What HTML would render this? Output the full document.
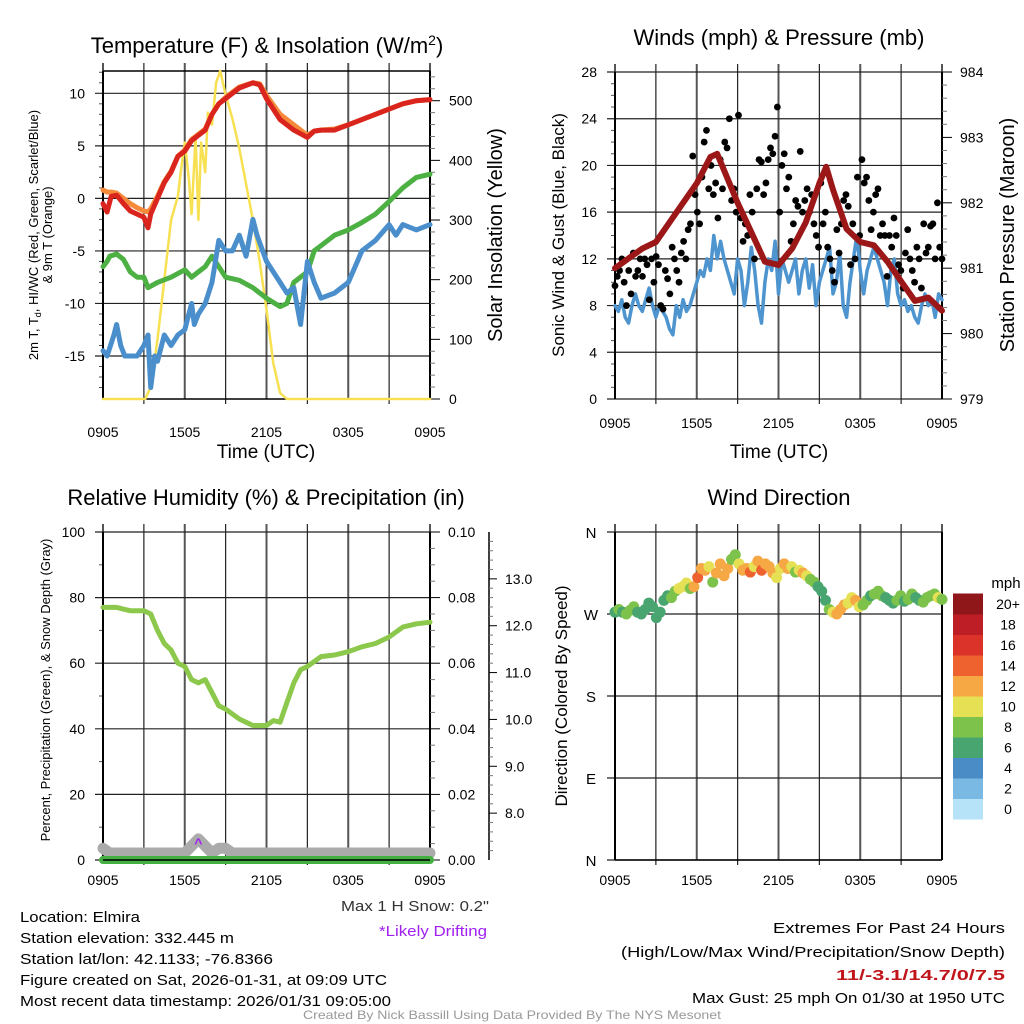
<!DOCTYPE html>
<html><head><meta charset="utf-8"><style>
html,body{margin:0;padding:0;background:#fff}
svg{display:block;font-family:"Liberation Sans",Arial,sans-serif}
</style></head><body>
<svg id="c" width="1024" height="1024" viewBox="0 0 1024 1024"></svg>
<script>
// ---------- DATA ----------
const hourLabels = ["0905","1505","2105","0305","0905"];
const tempHours = [0,0.3,0.6,1,1.5,2,2.5,3,3.3,3.5,4,4.5,5,5.5,6,6.5,7,7.5,8,8.5,9,10,11,11.5,12,12.5,13,14,15,15.5,16,17,18,19,20,21,22,23,24];
const tempT =     [-0.5,-1.3,0.2,0.3,-0.5,-1.2,-1.5,-1.8,-2.8,-1.5,0,1.5,2.5,4,4.5,5.5,6,6.5,8,9,9.5,10.5,11,10.8,9.5,8.5,7.5,6.5,5.8,6.4,6.5,6.5,7,7.5,8,8.5,9,9.3,9.4];
const temp9m =    [0.8,0.6,0.6,0.5,0,-0.5,-0.9,-1.2,-1.3,-1,0.2,1.6,2.6,4,4.6,5.6,6.1,6.6,8,9,9.6,10.6,11,10.9,9.8,8.9,8,7,6,6.4,6.5,6.6,7,7.5,8,8.5,9,9.3,9.4];
const dewHours = [0,0.3,0.5,1,1.5,2,2.5,3,3.3,4,5,6,6.5,7,7.5,8,8.5,9,10,11,12,13,13.5,14,15,15.5,16,17,18,19,20,21,22,23,24];
const dewTd =    [-6.5,-6,-5.5,-5.3,-5.8,-7,-7.5,-7.5,-8.5,-8,-7.5,-6.8,-7.5,-7,-6.5,-5.5,-6.5,-7.5,-7.8,-8.5,-9.5,-10.3,-10,-8,-7,-5,-4.5,-3.5,-3,-2.3,-1.5,-0.3,1,2,2.3];
const wcHours = [0,0.3,0.8,1,1.3,1.6,2,2.5,3,3.3,3.5,3.8,4,4.5,5,5.5,6,6.5,6.7,7,7.5,8,8.5,9,9.5,10,10.5,11,11.3,12,12.5,13,13.5,14,14.5,15,15.5,16,17,18,18.5,19,20,21,21.5,22,23,24];
const wcVals =  [-14.5,-15,-13,-12,-14,-15,-15,-15,-14,-13,-18,-15,-15.5,-13,-14,-13,-12.5,-10,-12,-11,-10,-8,-4,-5,-5,-3.5,-5.5,-2,-3.5,-6,-7,-8,-9,-8.5,-12,-6,-8,-9.5,-9,-8,-6.5,-5,-4,-2.5,-3.5,-2.5,-3,-2.5];
const solarHours = [0,3.1,3.5,4,4.5,5,5.5,5.7,6,6.3,6.5,6.8,7,7.2,7.5,7.7,8,8.3,8.6,9,9.5,10,10.5,11,11.5,12,12.5,13,13.5,24];
const solarVals =  [0,0,20,100,200,300,340,380,430,370,310,440,300,430,380,480,460,530,550,510,470,420,360,300,230,150,60,10,0,0];
const windVals = [8,7.5,8.5,7,6.5,8,9,8,7.5,8.5,9.5,8,7,8,7.5,7,6,5.5,8,7,8.5,7.5,8,9,10,11,10.5,12,11,14,12,13.5,12,11,10,9,12,11,8,10,13,11,8,6.5,10,12,11,13.5,9,12,11,10,11,12,9,11,12,9.5,11.5,8,10,11,12,13,9,10,12.5,8,7,10,12,14,11,9,11,12,13,12,11,10,8,11,12,9,8,8.5,7.5,8,7,6.5,8,9,8,8.5,7,9,8.5];
const gustVals = [9.7,10.5,11,12,10,8,11,9,12.5,10.5,11,12,10.5,12,11.5,8.5,12,10,12.2,11.5,8,7.7,11,10.3,9,13,12,11,10,12.5,13.5,12,14.5,15,20.8,17.5,16,15,19,22,23,18,20,17.5,18.5,15.5,20.5,18,22,21.5,24,17,18,16,24.3,15.5,13.5,15,14,17.5,16,12,18,20.5,20.3,17.5,18.5,20.5,21.5,21,22.5,25,16,20,21,18,19,13.5,15,17,16.5,21.2,16,17,18,16,17.5,15,14,13,18.5,15,16,13,12,11,10,14.5,12.5,15,17,17.5,16.5,11.5,15,12,19,14,20.5,18.5,19,17,14.5,16,17.5,18,14,15,14,10.5,14,13,15.5,14,11.5,11,9.5,12.5,14.5,12,11,10,13,12,9.5,15,12.5,13,14.8,15,12,16.8,13,12];
const presHours = [0,1,2,3,4,5,6,7,7.5,8,9,10,11,12,13,14,15,15.5,16,17,18,19,20,21,22,23,24];
const presVals =  [981.0,981.15,981.3,981.4,981.7,982.0,982.3,982.7,982.75,982.5,982.0,981.55,981.1,981.05,981.3,981.7,982.3,982.55,982.2,981.6,981.4,981.35,981.1,980.8,980.5,980.55,980.35];
const rhHours = [0,1,2,3,3.5,4,4.5,5,5.5,6,6.5,7,7.5,8,8.5,9,10,11,12,12.5,13,13.5,14,14.5,15,16,17,18,19,20,21,22,23,24];
const rhVals =  [77,77,76,76,75,70,66,64,60,59,55,54,55,51,47,46,43,41,41,42.5,42,48,54,58,59,62,62.5,63.5,65,66,68,71,72,72.5];
const snowHours = [0,0.5,1,6,6.5,7,7.5,8,8.5,9,9.5,10,24];
const snowVals  = [7.25,7.15,7.15,7.15,7.3,7.45,7.3,7.15,7.25,7.25,7.15,7.15,7.15];
const precipVals = [0,0];
const dirVals = [272,275,272,270,274,278,272,270,275,282,278,266,272,285,290,288,295,298,300,304,298,300,310,320,318,322,305,315,325,312,320,330,335,325,318,320,316,322,328,318,325,322,315,310,320,325,320,322,316,318,315,312,308,305,300,295,285,275,272,270,275,280,282,288,285,278,280,285,290,292,295,290,288,285,282,285,290,284,286,292,288,285,283,288,290,292,288,286];
const dirSpeed = [7,8,7,8,9,8,7,6,7,6,7,6,7,6,7,8,9,10,10,11,9,12,15,13,12,11,9,12,13,12,12,8,9,10,12,13,14,11,12,15,12,13,12,10,11,12,13,11,9,10,12,10,9,8,7,6,7,9,11,12,13,12,11,10,12,11,9,8,7,8,9,8,7,6,7,8,9,7,8,8,7,6,8,9,8,8,10,9];
const cbLabels = ["0","2","4","6","8","10","12","14","16","18","20+"];
const cbColors = ["#b6e3f7","#7ab9e3","#4a8dc6","#48a56f","#7cc24b","#e6e055","#f5a843","#ee6230","#db3229","#be1e25","#8f1619"];

// ---------- DRAW ----------
const svg = document.getElementById('c');
const NS = 'http://www.w3.org/2000/svg';
function el(tag, attrs, parent){const e=document.createElementNS(NS,tag);for(const k in attrs)e.setAttribute(k,attrs[k]);(parent||svg).appendChild(e);return e;}
function txt(s,x,y,size,anchor,extra){const t=el('text',Object.assign({x:x,y:y,'font-size':size,'text-anchor':anchor||'middle',fill:'#000'},extra||{}));t.textContent=s;return t;}
function lin(d0,d1,r0,r1){return v=>r0+(v-d0)/(d1-d0)*(r1-r0);}

function frame(x0,x1,y0,y1,yTicksPix,minorPix){
  const g=el('g',{});
  for(let i=0;i<=8;i++){const x=x0+(x1-x0)*i/8;
    const l=el('line',{x1:x,y1:y0-8,x2:x,y2:y1+ (i%2?5:0),stroke:i%2?'#222':'#555','stroke-width':i%2?1.2:2},g);
    
    }
  yTicksPix.forEach(y=>{const l=el('line',{x1:x0-8,y1:y,x2:x1,y2:y,stroke:'#222','stroke-width':1.2},g);
    
    });
  (minorPix||[]).forEach(y=>{el('line',{x1:x0-4,y1:y,x2:x0,y2:y,stroke:'#555','stroke-width':1},g);});
  el('line',{x1:x0,y1:y0,x2:x0,y2:y1,stroke:'#000','stroke-width':2},g);
  el('line',{x1:x1,y1:y0,x2:x1,y2:y1,stroke:'#000','stroke-width':2},g);
  return g;
}
function xLabels(x0,x1,y){hourLabels.forEach((s,i)=>{const t=txt(s,x0+(x1-x0)*i/4,y,14);
  
  });}
function path(xs,ys,X,Y,attrs){let d='';xs.forEach((h,i)=>{d+=(i?'L':'M')+X(h).toFixed(1)+','+Y(ys[i]).toFixed(1);});return el('path',Object.assign({d:d,fill:'none','stroke-linejoin':'round','stroke-linecap':'round'},attrs));}
function rightTicks(x,vals,Y,minor){vals.forEach(v=>el('line',{x1:x,y1:Y(v),x2:x+10,y2:Y(v),stroke:'#000','stroke-width':1}));(minor||[]).forEach(v=>el('line',{x1:x,y1:Y(v),x2:x+5,y2:Y(v),stroke:'#777','stroke-width':1}));}

// ===== Panel 1: Temperature =====
{
const X=lin(0,24,103,430), Y=lin(10,-15,93.3,356), YS=lin(0,500,399,100.7);
const maj=[10,5,0,-5,-10,-15].map(Y);
const mn=[];for(let v=-18;v<=12;v++)if(v%5)mn.push(Y(v));
frame(103,430,71,399,maj,mn);
el('line',{x1:103,y1:71,x2:430,y2:71,stroke:'#000','stroke-width':1.5});
el('line',{x1:103,y1:399,x2:430,y2:399,stroke:'#000','stroke-width':1.5});
[10,5,0,-5,-10,-15].forEach(v=>{const t=txt(String(v),85,Y(v)+5,14,'end');});
const mnS=[];for(let v=0;v<=540;v+=20)if(v%100)mnS.push(v);
rightTicks(430,[0,100,200,300,400,500],YS,mnS);
[0,100,200,300,400,500].forEach(v=>{const t=txt(String(v),449,YS(v)+5,14,'start');});
const sy=path(solarHours,solarVals,X,YS,{stroke:'#f7e051','stroke-width':2.5});

const p9=path(tempHours,temp9m,X,Y,{stroke:'#f58a3a','stroke-width':5});

const pt=path(tempHours,tempT,X,Y,{stroke:'#d9251d','stroke-width':5});

const pd=path(dewHours,dewTd,X,Y,{stroke:'#4cb043','stroke-width':5});

const pw=path(wcHours,wcVals,X,Y,{stroke:'#4a8fcc','stroke-width':5});

xLabels(103,430,437);
const t1=txt('Time (UTC)',266,458,19);
const tt=el('text',{x:267,y:53,'font-size':22,'text-anchor':'middle'});tt.innerHTML='Temperature (F) &amp; Insolation (W/m<tspan dy="-8" font-size="14">2</tspan><tspan dy="8">)</tspan>';

const ya=el('text',{transform:'translate(38,235) rotate(-90)','font-size':13,'text-anchor':'middle'});ya.innerHTML='2m T, T<tspan font-size="9" dy="3">d</tspan><tspan dy="-3">, HI/WC (Red, Green, Scarlet/Blue)</tspan>';

const yb=txt('& 9m T (Orange)',0,0,13,'middle',{transform:'translate(52,235) rotate(-90)'});
const yr=txt('Solar Insolation (Yellow)',0,0,20,'middle',{transform:'translate(502,235) rotate(-90)'});
}

// ===== Panel 2: Winds =====
{
const X=lin(0,24,615,942), Y=lin(0,28,399,72), YP=lin(979,984,399,72);
const ticks=[0,4,8,12,16,20,24,28];
const mn=[];for(let v=1;v<28;v++)if(v%4)mn.push(Y(v));
frame(615,942,72,399,ticks.map(Y),mn);
ticks.forEach(v=>{const t=txt(String(v),597,Y(v)+5,14,'end');});
const mnP=[];for(let v=979;v<984;v+=0.2)if(Math.abs(v-Math.round(v))>0.01)mnP.push(v);
rightTicks(942,[979,980,981,982,983,984],YP,mnP);
[979,980,981,982,983,984].forEach(v=>{const t=txt(String(v),960,YP(v)+5,14,'start');});
const wh=windVals.map((_,i)=>i*24/(windVals.length-1));
const w=path(wh,windVals,X,Y,{stroke:'#4e95d0','stroke-width':3.5});

gustVals.forEach((v,i)=>{const c=el('circle',{cx:X(i*24/(gustVals.length-1)),cy:Y(v),r:3.4,fill:'#000'});
  });
const p=path(presHours,presVals,X,YP,{stroke:'#9c1717','stroke-width':6});

xLabels(615,942,428);
const t1=txt('Time (UTC)',779,458,19);
const tt=txt('Winds (mph) & Pressure (mb)',779,45,22);
const yl=txt('Sonic Wind & Gust (Blue, Black)',0,0,17,'middle',{transform:'translate(564,235) rotate(-90)'});
const yr=txt('Station Pressure (Maroon)',0,0,20,'middle',{transform:'translate(1014,235) rotate(-90)'});
}

// ===== Panel 3: RH =====
{
const X=lin(0,24,103,430), Y=lin(0,100,860,532), YPr=lin(0,0.1,860,532), YSn=lin(7,14,860,532);
const ticks=[0,20,40,60,80,100];
const mn=[];for(let v=10;v<100;v+=20)mn.push(Y(v));
frame(103,430,532,860,ticks.map(Y),mn);
ticks.forEach(v=>{const t=txt(String(v),85,Y(v)+5,14,'end');});
const mnR=[];for(let v=0.005;v<0.1;v+=0.005)if(Math.round(v*1000)%20)mnR.push(v);
rightTicks(430,[0,0.02,0.04,0.06,0.08,0.1],YPr,mnR);
[0,0.02,0.04,0.06,0.08,0.1].forEach(v=>{const t=txt(v.toFixed(2),448,YPr(v)+5,14,'start');});
el('line',{x1:489,y1:532,x2:489,y2:860,stroke:'#000','stroke-width':1.5});
const mnS=[];for(let v=7.2;v<14;v+=0.2)if(Math.abs(v-Math.round(v))>0.01)mnS.push(v);
[8,9,10,11,12,13].forEach(v=>el('line',{x1:489,y1:YSn(v),x2:497,y2:YSn(v),stroke:'#000','stroke-width':1}));
mnS.forEach(v=>el('line',{x1:489,y1:YSn(v),x2:493,y2:YSn(v),stroke:'#777','stroke-width':1}));
[8,9,10,11,12,13].forEach(v=>{const t=txt(v.toFixed(1),505,YSn(v)+5,14,'start');});
const sn=path(snowHours,snowVals,X,YSn,{stroke:'#ababab','stroke-width':11});

const pr=path([0,24],precipVals,X,YPr,{stroke:'#44b041','stroke-width':8});

el('line',{x1:103,y1:860,x2:430,y2:860,stroke:'#000','stroke-width':1.5});
const rh=path(rhHours,rhVals,X,Y,{stroke:'#8cc84b','stroke-width':5});

const dr=txt('^',X(7),YSn(7.45)+9,14,'middle',{fill:'#a020f0','font-weight':'bold'});
xLabels(103,430,885);
const tt=txt('Relative Humidity (%) & Precipitation (in)',266,505,22);
const yl=txt('Percent, Precipitation (Green), & Snow Depth (Gray)',0,0,13,'middle',{transform:'translate(50,690) rotate(-90)'});
}

// ===== Panel 4: Wind direction =====
{
const X=lin(0,24,615,942), Y=lin(360,0,532,860);
frame(615,942,532,860,[360,270,180,90,0].map(Y),[]);
el('line',{x1:615,y1:860,x2:942,y2:860,stroke:'#000','stroke-width':1.5});
[['N',360],['W',270],['S',180],['E',90],['N',0]].forEach(a=>{const t=txt(a[0],591,Y(a[1])+6,15);});
dirVals.forEach((d,i)=>{const s=dirSpeed[i];const k=Math.min(10,Math.floor(s/2));
  const c=el('circle',{cx:X(i*24/(dirVals.length-1)),cy:Y(d),r:5.5,fill:cbColors[k]});
  });
xLabels(615,942,885);
const tt=txt('Wind Direction',779,505,22);
const yl=txt('Direction (Colored By Speed)',0,0,17,'middle',{transform:'translate(567,696) rotate(-90)'});
const h=20.5;
cbColors.forEach((c,i)=>{const r=el('rect',{x:953,y:819-(i+1)*h,width:30,height:h+0.5,fill:c});
  });
cbLabels.forEach((s,i)=>{const t=txt(s,1008,819-i*h-h/2+5,14);});
const u=txt('mph',1006,588,15);
}

// ===== Footer text =====
const info=[['Location: Elmira',120],['Station elevation: 332.445 m',214],['Station lat/lon: 42.1133; -76.8366',253],['Figure created on Sat, 2026-01-31, at 09:09 UTC',367],['Most recent data timestamp: 2026/01/31 09:05:00',371]];
info.forEach((a,i)=>{const t=txt(a[0],20,922+21*i,15,'start',{textLength:a[1],lengthAdjust:'spacingAndGlyphs'});
  });
const ms=txt('Max 1 H Snow: 0.2"',489,911,15,'end',{fill:'#333',textLength:148,lengthAdjust:'spacingAndGlyphs'});
const ld=txt('*Likely Drifting',487,936,15,'end',{fill:'#a020f0',textLength:108,lengthAdjust:'spacingAndGlyphs'});
const ex=[['Extremes For Past 24 Hours',933,232,{}],['(High/Low/Max Wind/Precipitation/Snow Depth)',957,384,{}],['11/-3.1/14.7/0/7.5',980,169,{fill:'#c0161b','font-weight':'bold'}],['Max Gust: 25 mph On 01/30 at 1950 UTC',1003,313,{}]];
ex.forEach(a=>{const t=txt(a[0],1005,a[1],15,'end',Object.assign({textLength:a[2],lengthAdjust:'spacingAndGlyphs'},a[3]));
  });
const cr=txt('Created By Nick Bassill Using Data Provided By The NYS Mesonet',512,1019,12,'middle',{fill:'#999',textLength:418,lengthAdjust:'spacingAndGlyphs'});

</script>
</body></html>
